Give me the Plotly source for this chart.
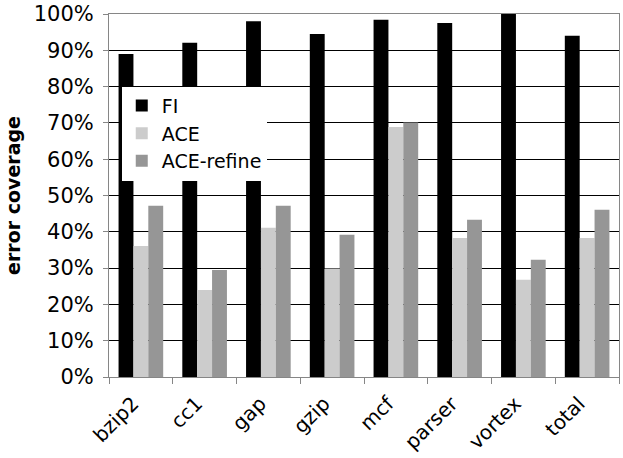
import plotly.graph_objects as go

categories = ["bzip2", "cc1", "gap", "gzip", "mcf", "parser", "vortex", "total"]
fi = [0.89, 0.921, 0.98, 0.945, 0.984, 0.975, 1.0, 0.94]
ace = [0.361, 0.24, 0.411, 0.299, 0.689, 0.383, 0.268, 0.383]
ace_refine = [0.472, 0.295, 0.472, 0.392, 0.701, 0.433, 0.323, 0.461]

series_names = ["FI", "ACE", "ACE-refine"]
colors = ["#000000", "#cccccc", "#969696"]

fig = go.Figure()
for name, vals, col in zip(series_names, [fi, ace, ace_refine], colors):
    fig.add_trace(go.Bar(x=categories, y=vals, name=name, marker=dict(color=col, line=dict(width=0))))

font_family = "DejaVu Sans, Verdana, sans-serif"
fig.update_layout(
    width=623, height=458,
    margin=dict(l=109, r=4, t=14, b=81, autoexpand=False),
    barmode="group", bargap=0.3, bargroupgap=0,
    plot_bgcolor="white", paper_bgcolor="white",
    font=dict(family=font_family, size=20, color="#000000"),
    showlegend=True,
    legend=dict(x=0.025, y=0.80, xanchor="left", yanchor="top",
                bgcolor="white", borderwidth=0,
                font=dict(size=19), tracegroupgap=0, itemwidth=30),
    xaxis=dict(showgrid=False, tickangle=-45, tickson="boundaries",
               ticks="outside", ticklen=6, tickcolor="#868686",
               showline=True, linecolor="#868686", linewidth=1, mirror=True,
               automargin=False, tickfont=dict(size=20),
               ticklabelshift=-8, ticklabelstandoff=6),
    yaxis=dict(range=[0, 1], dtick=0.1, tickformat=".0%",
               showgrid=True, gridcolor="#000000", gridwidth=1,
               ticks="outside", ticklen=5, tickcolor="#868686",
               showline=True, linecolor="#868686", linewidth=1, mirror=True,
               zeroline=False, automargin=False, ticklabelstandoff=5,
               title=dict(text="<b>error coverage</b>", font=dict(size=19), standoff=8),
               tickfont=dict(size=21)),
)

# remove the browser's default 8px body margin so the figure sits at (0, 0)
fig.write_html("out.html", config={"displayModeBar": False},
               post_script="document.body.style.margin='0';")
